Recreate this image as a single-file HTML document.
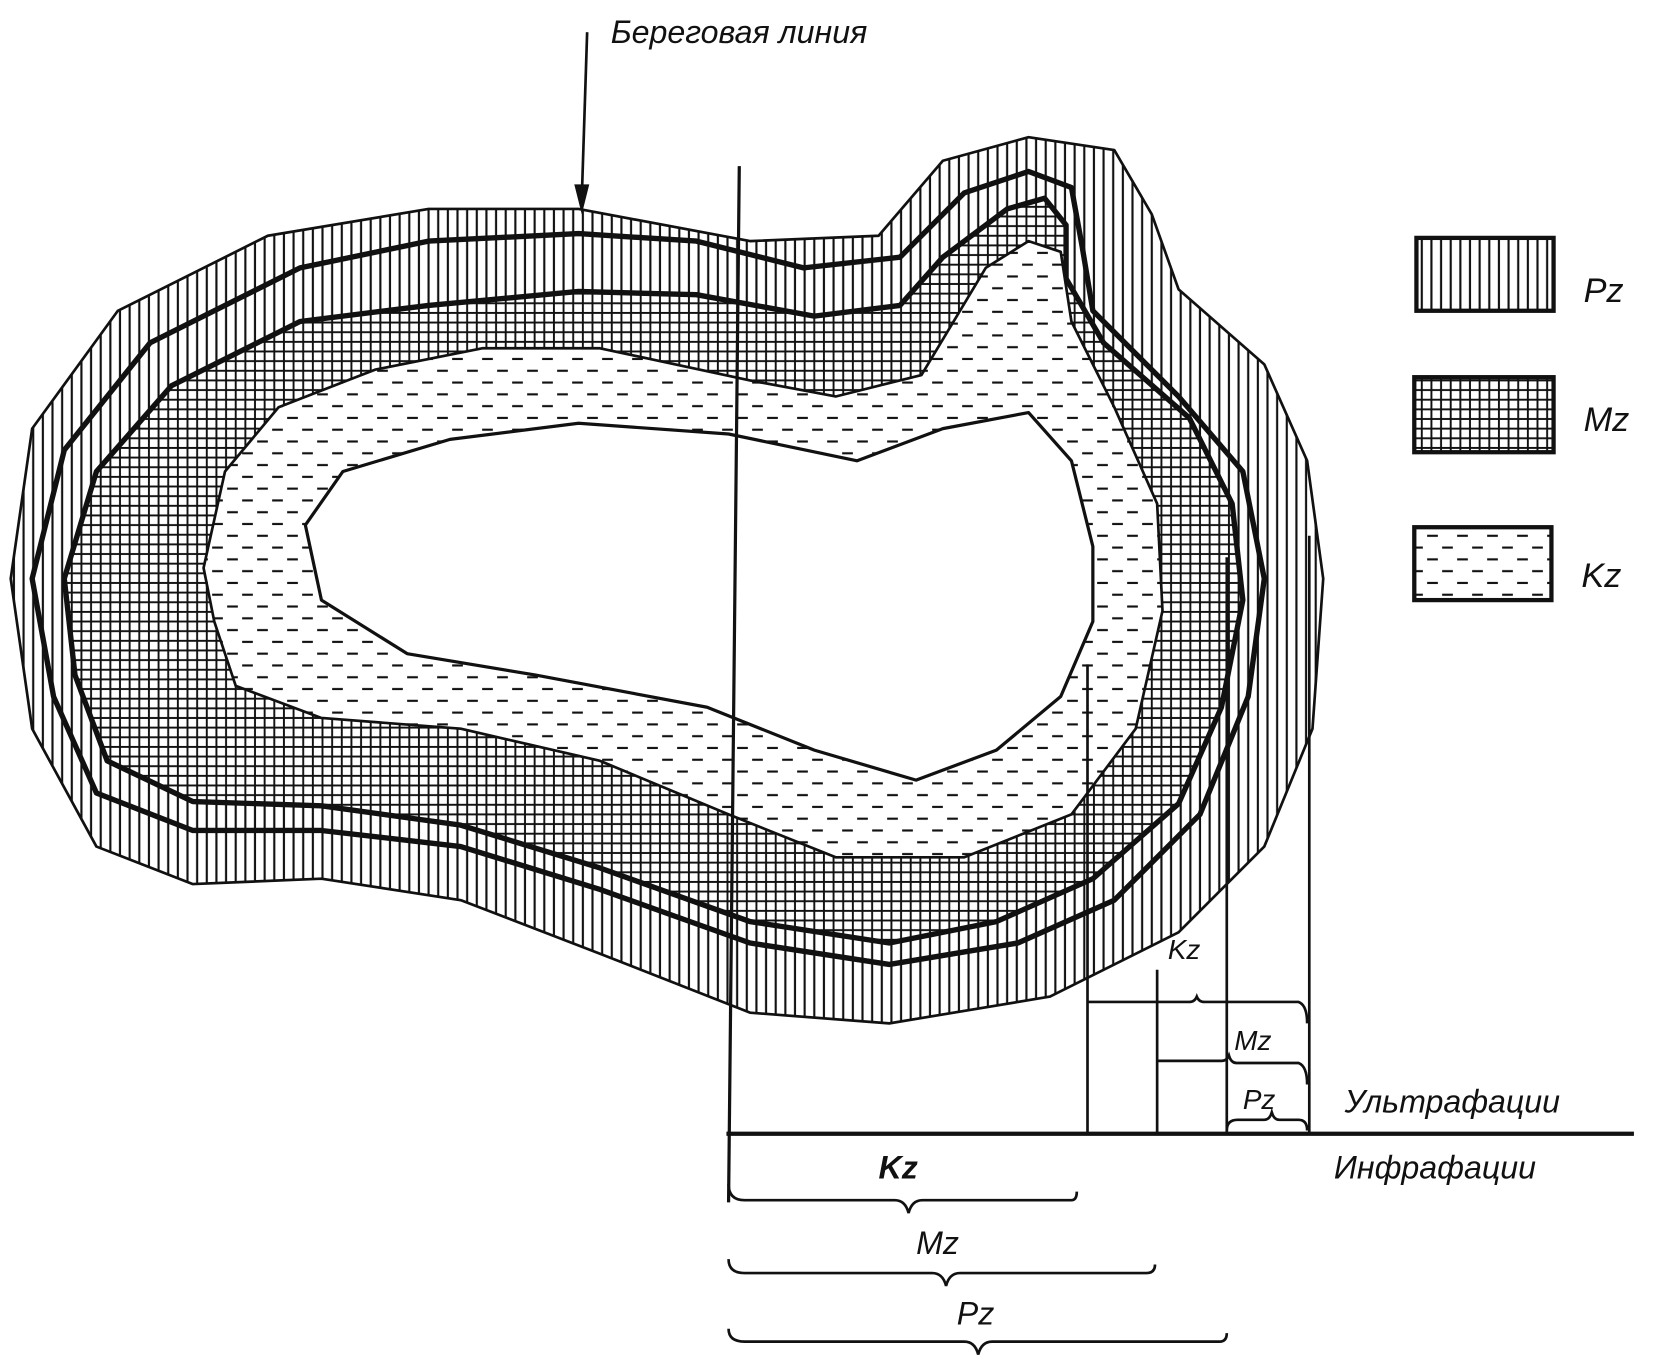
<!DOCTYPE html>
<html><head><meta charset="utf-8"><style>
html,body{margin:0;padding:0;background:#fff;}
svg{display:block}
text{font-family:"Liberation Sans","DejaVu Sans",sans-serif;font-style:italic;fill:#111}
</style></head><body>
<svg width="1680" height="1362" viewBox="0 0 1568 1271" preserveAspectRatio="none" xmlns="http://www.w3.org/2000/svg">
<defs>
<pattern id="vert" width="9" height="20" patternUnits="userSpaceOnUse"><rect width="9" height="20" fill="#fff"/><line x1="4" y1="0" x2="4" y2="20" stroke="#111" stroke-width="2"/></pattern>
<pattern id="cross" width="9" height="9" patternUnits="userSpaceOnUse"><rect width="9" height="9" fill="#fff"/><line x1="4" y1="0" x2="4" y2="9" stroke="#111" stroke-width="1.8"/><line x1="0" y1="4" x2="9" y2="4" stroke="#111" stroke-width="1.8"/></pattern>
<pattern id="dash" width="28" height="22" patternUnits="userSpaceOnUse"><rect width="28" height="22" fill="#fff"/><line x1="2" y1="5" x2="12" y2="5" stroke="#111" stroke-width="2"/><line x1="16" y1="16" x2="26" y2="16" stroke="#111" stroke-width="2"/></pattern>
</defs>
<g stroke-linejoin="round">
<polygon points="10,540 30,400 110,290 250,220 400,195 540,195 700,225 820,220 880,150 960,128 1040,140 1075,200 1100,270 1180,340 1220,430 1235,540 1225,680 1180,790 1100,870 980,930 830,955 700,945 560,890 430,840 300,820 180,825 90,790 30,680" fill="url(#vert)" stroke="#111" stroke-width="2.5"/>
<polygon points="60,540 90,440 160,360 280,300 400,285 540,272 650,275 760,295 840,285 880,240 940,195 975,185 995,210 995,260 1030,320 1110,390 1150,470 1160,560 1140,660 1100,750 1020,820 930,860 830,880 700,860 560,810 430,770 300,752 180,748 100,710 70,630" fill="url(#cross)" stroke="#111" stroke-width="5"/>
<polygon points="190,530 210,440 260,380 350,345 450,325 560,325 700,355 780,370 860,350 920,250 960,225 990,235 1000,300 1040,380 1080,470 1085,570 1060,680 1000,760 900,800 780,800 680,760 560,710 430,680 300,670 220,640 200,580" fill="url(#dash)" stroke="#111" stroke-width="2.5"/>
<polygon points="285,490 320,440 420,410 540,395 680,405 800,430 880,400 960,385 1000,430 1020,510 1020,580 990,650 930,700 855,728 760,700 660,660 500,630 380,610 300,560" fill="#fff" stroke="#111" stroke-width="3"/>
<polygon points="30,540 60,420 140,320 280,250 400,225 540,218 650,225 750,250 840,240 900,180 960,160 1000,175 1010,230 1020,290 1100,370 1160,440 1180,540 1165,650 1120,760 1040,840 950,880 830,900 700,880 560,830 430,790 300,775 180,775 90,740 50,650" fill="none" stroke="#111" stroke-width="5"/>
</g>
<line x1="548" y1="30" x2="543" y2="185" stroke="#111" stroke-width="2.5"/>
<polygon points="536,172 550,172 543,200" fill="#111"/>
<text x="570" y="40" font-size="30">Береговая линия</text>
<line x1="690" y1="155" x2="680" y2="1122" stroke="#111" stroke-width="3"/>
<line x1="678" y1="1058" x2="1525" y2="1058" stroke="#111" stroke-width="4"/>
<g stroke="#111" stroke-width="2.5" fill="none">
<line x1="1015" y1="620" x2="1015" y2="1058"/>
<line x1="1080" y1="905" x2="1080" y2="1058"/>
<line x1="1145" y1="520" x2="1145" y2="1058"/>
<line x1="1222" y1="500" x2="1222" y2="1058"/>
<path d="M1015,935 L1110,935 Q1115,935 1117,930 Q1119,935 1124,935 L1212,935 Q1220,938 1220,955"/>
<path d="M1080,990 L1140,990 Q1145,990 1147,985 Q1149,992 1154,992 L1212,992 Q1220,995 1220,1012"/>
<path d="M1145,1055 Q1145,1045 1155,1045 L1180,1045 Q1185,1045 1187,1038 Q1189,1045 1194,1045 L1212,1045 Q1220,1045 1220,1055"/>
<path d="M680,1105 Q680,1120 695,1120 L835,1120 Q845,1120 848,1132 Q851,1120 861,1120 L1000,1120 Q1005,1120 1005,1112"/>
<path d="M680,1175 Q680,1188 695,1188 L870,1188 Q880,1188 883,1200 Q886,1188 896,1188 L1070,1188 Q1078,1188 1078,1180"/>
<path d="M680,1240 Q680,1252 695,1252 L900,1252 Q910,1252 913,1264 Q916,1252 926,1252 L1138,1252 Q1145,1252 1145,1244"/>
</g>
<text x="1090" y="895" font-size="26">Kz</text>
<text x="1152" y="980" font-size="26">Mz</text>
<text x="1160" y="1035" font-size="26">Pz</text>
<text x="1255" y="1038" font-size="30">Ультрафации</text>
<text x="1245" y="1100" font-size="30">Инфрафации</text>
<text x="820" y="1100" font-size="30" font-weight="bold">Kz</text>
<text x="855" y="1170" font-size="30">Mz</text>
<text x="893" y="1236" font-size="30">Pz</text>
<rect x="1322" y="222" width="128" height="68" fill="url(#vert)" stroke="#111" stroke-width="4"/>
<rect x="1320" y="352" width="130" height="70" fill="url(#cross)" stroke="#111" stroke-width="4"/>
<rect x="1320" y="492" width="128" height="68" fill="url(#dash)" stroke="#111" stroke-width="4"/>
<text x="1478" y="282" font-size="32">Pz</text>
<text x="1478" y="402" font-size="32">Mz</text>
<text x="1476" y="548" font-size="32">Kz</text>
</svg>
</body></html>
